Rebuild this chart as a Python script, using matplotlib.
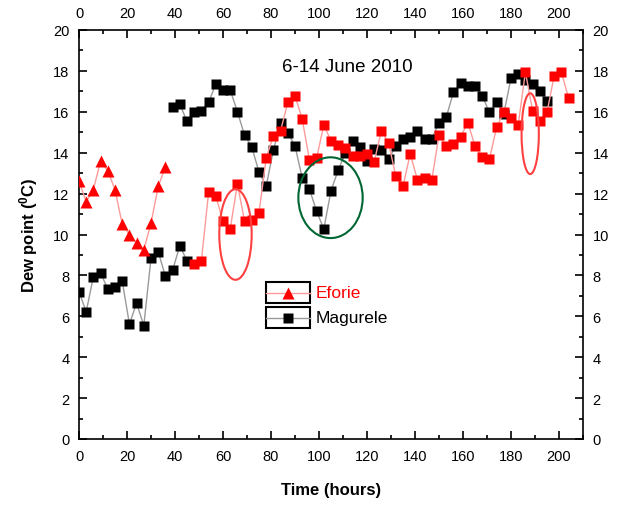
#!/usr/bin/env python3
"""
Dew point time series, Eforie vs Magurele, 6-14 June 2010
"""
import matplotlib
matplotlib.use('Agg')
import matplotlib.pyplot as plt
from matplotlib.patches import Rectangle, Ellipse
from matplotlib.lines import Line2D
from matplotlib.ticker import MultipleLocator

plt.rcParams['font.family'] = ['Liberation Sans', 'DejaVu Sans']
plt.rcParams['mathtext.fontset'] = 'custom'
plt.rcParams['mathtext.rm'] = 'Liberation Sans'
plt.rcParams['mathtext.bf'] = 'Liberation Sans:bold'

# Eforie - first segment (triangles), hours 0..36
eforie_t1 = [0, 3, 6, 9, 12, 15, 18, 21, 24, 27, 30, 33, 36]
eforie_v1 = [12.6, 11.6, 12.2, 13.6, 13.1, 12.2, 10.5, 10.0, 9.6, 9.25, 10.55, 12.35, 13.3]

# Eforie - second segment (squares), hours 48..204
eforie_t2 = list(range(48, 205, 3))
eforie_v2 = [8.56, 8.72, 12.06, 11.87, 10.65, 10.27, 12.47, 10.65, 10.7, 11.05,
             13.74, 14.83, 15.08, 16.46, 16.79, 15.65, 13.66, 13.74, 15.35, 14.59,
             14.38, 14.25, 13.82, 13.82, 13.94, 13.56, 15.08, 14.47, 12.85, 12.36,
             13.94, 12.68, 12.75, 12.68, 14.85, 14.34, 14.43, 14.78, 15.47, 14.33,
             13.77, 13.68, 15.24, 15.98, 15.7, 15.35, 17.95, 16.05, 15.57, 15.97,
             17.77, 17.95, 16.66]

# Magurele - first segment, hours 0..45
magurele_t1 = list(range(0, 46, 3))
magurele_v1 = [7.2, 6.22, 7.94, 8.12, 7.33, 7.42, 7.73, 5.62, 6.64, 5.54,
               8.84, 9.16, 7.95, 8.25, 9.45, 8.72]

# Magurele - second segment, hours 39..195
magurele_t2 = list(range(39, 196, 3))
magurele_v2 = [16.25, 16.38, 15.53, 15.97, 16.05, 16.46, 17.36, 17.07, 17.07, 16.0,
               14.85, 14.28, 13.05, 12.37, 14.13, 15.46, 14.96, 14.34, 12.76, 12.22,
               11.14, 10.27, 12.14, 13.15, 14.0, 14.59, 14.26, 13.61, 14.18, 14.15,
               13.69, 14.31, 14.67, 14.75, 15.08, 14.67, 14.67, 15.47, 15.73, 16.95,
               17.41, 17.28, 17.28, 16.79, 15.97, 16.49, 15.9, 17.65, 17.85, 17.56,
               17.36, 17.03, 16.54]

red = '#ff0000'
red_line = '#ff9a9a'
grey_line = '#9a9a9a'

fig = plt.figure(figsize=(6.23, 5.06), dpi=100)
ax = fig.add_axes([79/623, 66/506, 504/623, 409/506])

ax.plot(magurele_t1, magurele_v1, '-', color=grey_line, lw=1, zorder=2)
ax.plot(magurele_t1, magurele_v1, 's', color='black', ms=6.5, mec='none', zorder=3)
ax.plot(magurele_t2, magurele_v2, '-', color=grey_line, lw=1, zorder=2)
ax.plot(magurele_t2, magurele_v2, 's', color='black', ms=6.5, mec='none', zorder=3)

ax.plot(eforie_t1, eforie_v1, '-', color=red_line, lw=1, zorder=4)
ax.plot(eforie_t1, eforie_v1, '^', color=red, ms=8.5, mec='none', zorder=5)
ax.plot(eforie_t2, eforie_v2, '-', color=red_line, lw=1, zorder=4)
ax.plot(eforie_t2, eforie_v2, 's', color=red, ms=6.5, mec='none', zorder=5)

# highlighted regions
ax.add_patch(Ellipse((65.2, 10.0), 13.5, 4.43, fill=False, ec='#ff4040', lw=1.5, zorder=6))
ax.add_patch(Ellipse((104.8, 11.8), 26.8, 3.95, fill=False, ec='#006633', lw=1.5, zorder=6))
ax.add_patch(Ellipse((188.0, 14.93), 7.2, 3.95, fill=False, ec='#ff4040', lw=1.5, zorder=6))

ax.text(112, 18.2, '6-14 June 2010', ha='center', va='center', fontsize=13.5)

ax.set_xlim(0, 210)
ax.set_ylim(0, 20)
ax.xaxis.set_major_locator(MultipleLocator(20))
ax.xaxis.set_minor_locator(MultipleLocator(10))
ax.yaxis.set_major_locator(MultipleLocator(2))
ax.yaxis.set_minor_locator(MultipleLocator(1))
ax.tick_params(which='both', direction='in', top=True, right=True,
               labeltop=True, labelright=True, labelsize=10.5, width=1.2)
ax.tick_params(which='major', length=6, pad=7)
ax.tick_params(which='minor', length=3)
for sp in ax.spines.values():
    sp.set_linewidth(1.2)

ax.set_xlabel('Time (hours)', fontsize=12, fontweight='bold', labelpad=14)
ax.set_ylabel(r'Dew point ($\mathbf{^0}$C)', fontsize=12, fontweight='bold', labelpad=9)

# Origin-style legend with boxed symbols
def px_to_ax(px, py):
    return (px - 79) / 504, (440 - py) / 409

entries = [('Eforie', red, red_line, '^', 8.5, 283.3, 304.3),
           ('Magurele', 'black', grey_line, 's', 6.5, 307.7, 329.3)]
for label, col, lcol, mk, ms, ytop, ybot in entries:
    x0, y0 = px_to_ax(265.7, ybot)
    x1, y1 = px_to_ax(310, ytop)
    ax.add_patch(Rectangle((x0, y0), x1 - x0, y1 - y0, transform=ax.transAxes,
                           fill=False, ec='black', lw=1.5, zorder=7))
    yc = (y0 + y1) / 2
    ax.add_line(Line2D([x0, x1], [yc, yc], transform=ax.transAxes, color=lcol, lw=1, zorder=7))
    ax.add_line(Line2D([(x0 + x1) / 2], [yc], transform=ax.transAxes, marker=mk,
                       color=col, ms=ms, mec='none', zorder=8))
    tx, _ = px_to_ax(316, 0)
    ax.text(tx, yc, label, transform=ax.transAxes, color=col, fontsize=12.5,
            va='center', ha='left', zorder=8)

plt.savefig('out.png', dpi=100)
print("Saved: out.png")
